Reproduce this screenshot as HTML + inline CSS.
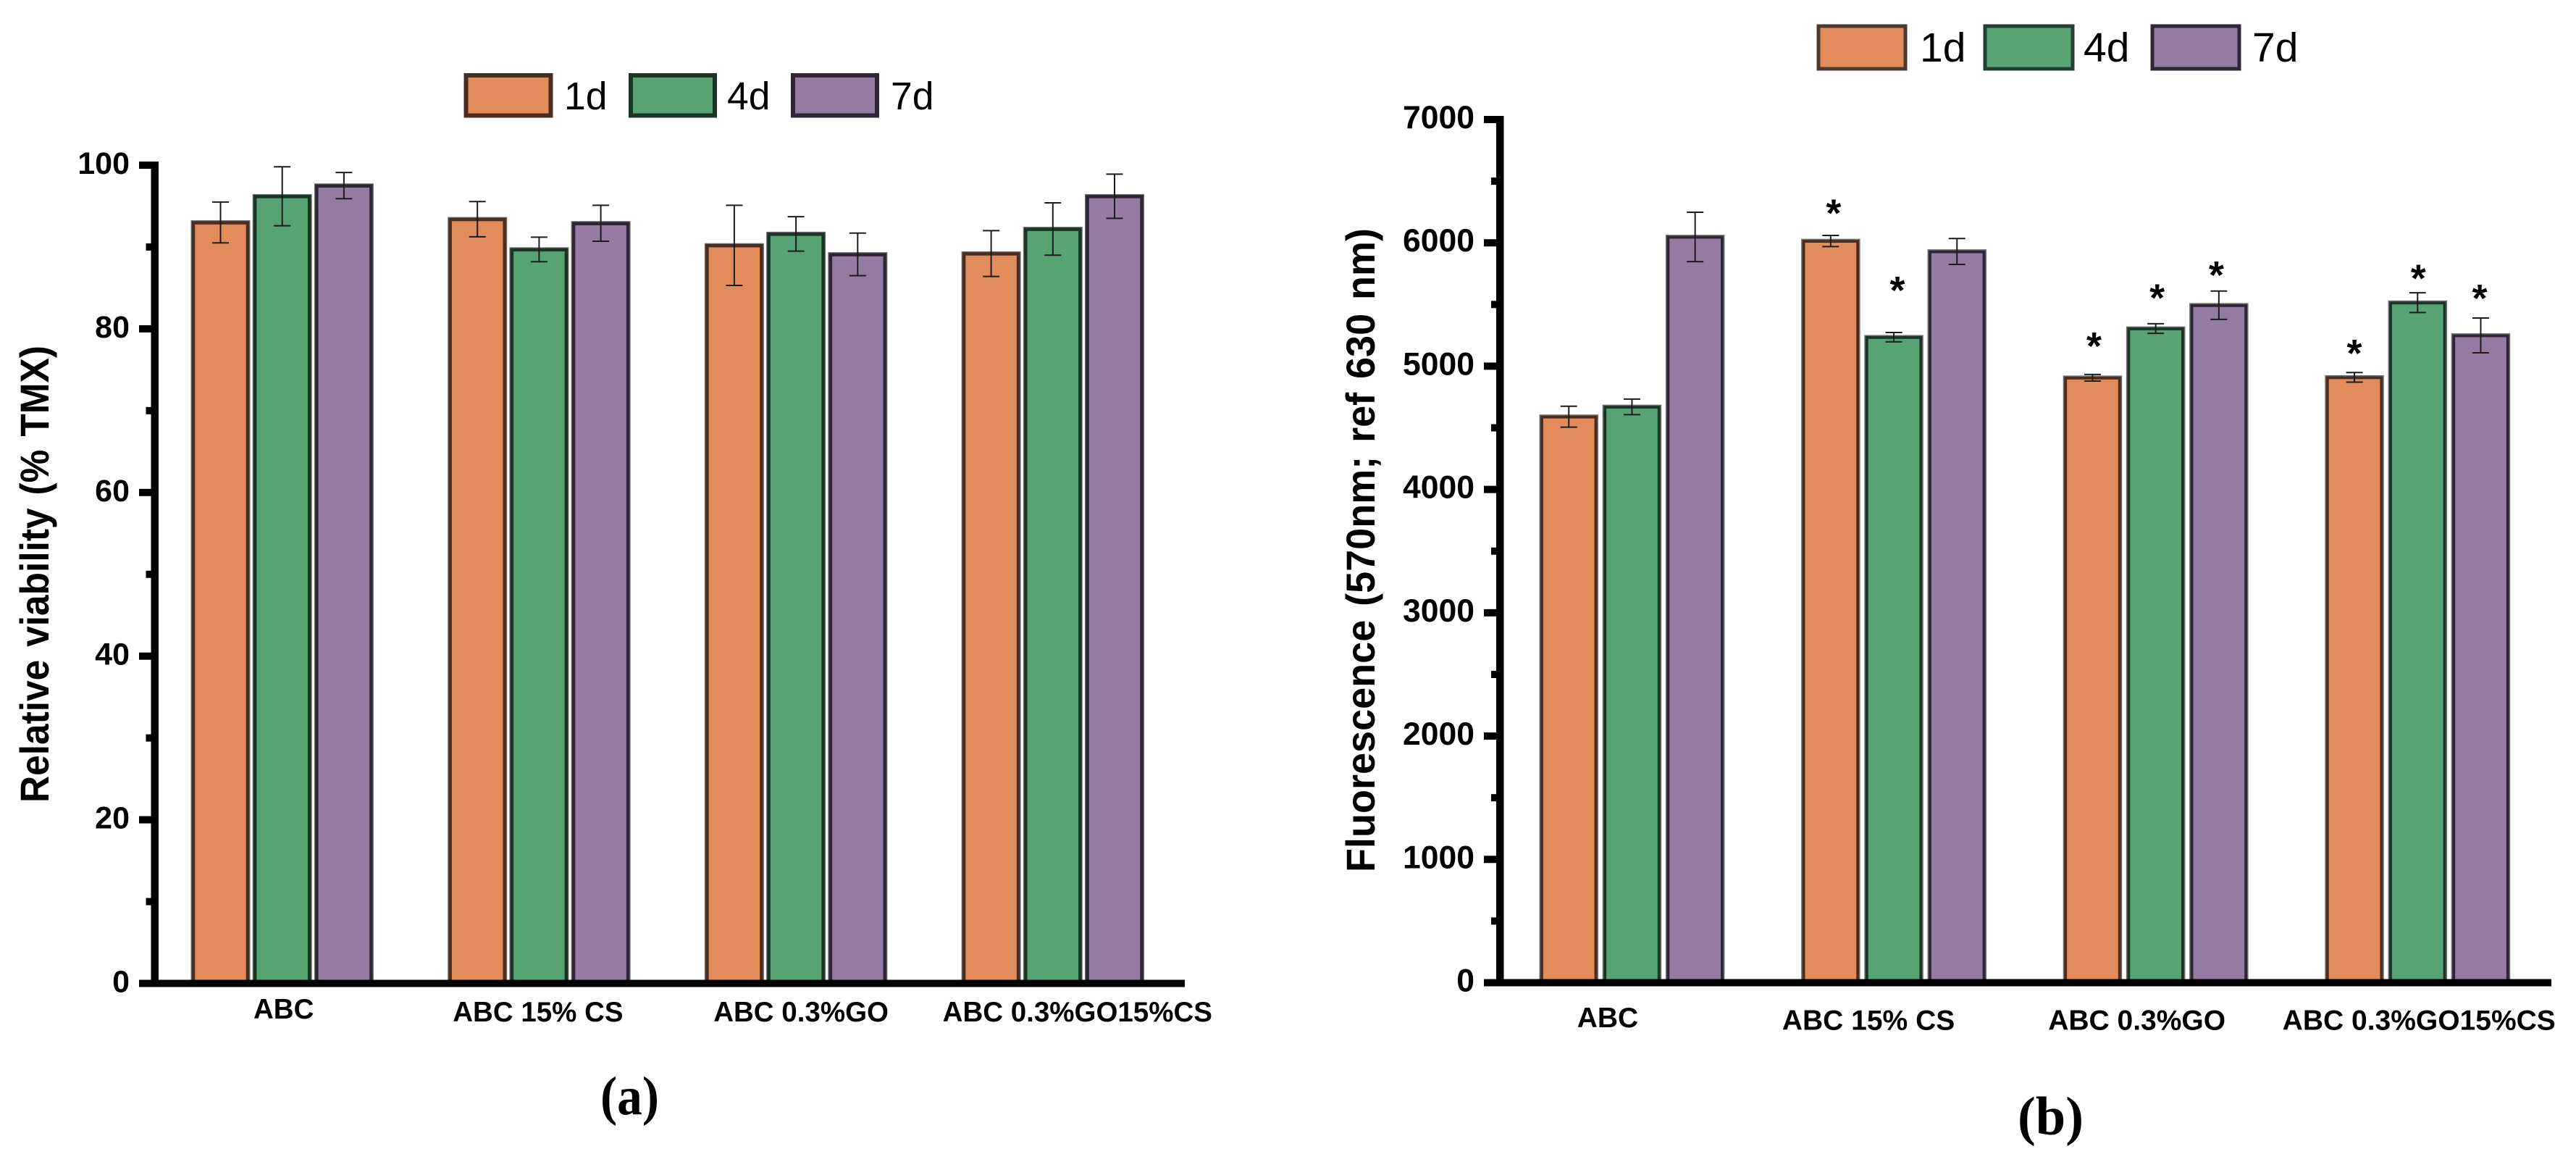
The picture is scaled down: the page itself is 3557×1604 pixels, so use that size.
<!DOCTYPE html>
<html lang="en">
<head>
<meta charset="utf-8">
<title>Relative viability and fluorescence bar charts</title>
<style>
  html, body { margin: 0; padding: 0; background: #fff; }
  svg { display: block; }
  text { font-family: "Liberation Sans", Arial, sans-serif; fill: #000; }
</style>
</head>
<body>
<svg id="figure" xmlns="http://www.w3.org/2000/svg" width="3557" height="1604" viewBox="0 0 3557 1604">
  <rect x="0" y="0" width="3557" height="1604" fill="#fff"/>
  <g id="chart-a"></g>
  <g id="chart-b"></g>

  <g>
    <g>
      <rect x="643.5" y="104" width="117" height="55.5" fill="#E28C5C" stroke="#4A2D1E" stroke-width="6"/>
      <text x="779" y="151" font-size="53.5">1d</text>
    </g>
    <g>
      <rect x="871" y="104" width="116" height="55.5" fill="#58A373" stroke="#1A3524" stroke-width="6"/>
      <text x="1004" y="151" font-size="53.5">4d</text>
    </g>
    <g>
      <rect x="1095" y="104" width="116" height="55.5" fill="#937BA2" stroke="#2E2636" stroke-width="6"/>
      <text x="1230" y="151" font-size="53.5">7d</text>
    </g>
  </g>

  <g>
    <g>
      <rect x="2511" y="36" width="120" height="59" fill="#E28C5C" stroke="#4A3A30" stroke-width="5"/>
      <text x="2651" y="85" font-size="57">1d</text>
    </g>
    <g>
      <rect x="2741" y="36" width="121" height="59" fill="#58A373" stroke="#26402F" stroke-width="5"/>
      <text x="2877" y="85" font-size="57">4d</text>
    </g>
    <g>
      <rect x="2972" y="36" width="120" height="59" fill="#937BA2" stroke="#2E2636" stroke-width="5"/>
      <text x="3110" y="85" font-size="57">7d</text>
    </g>
  </g>

  <text transform="translate(67,1108) rotate(-90)" font-size="56" font-weight="700" textLength="631" lengthAdjust="spacingAndGlyphs" word-spacing="4">Relative viability (% TMX)</text>
  <text transform="translate(1898,1204) rotate(-90)" font-size="56" font-weight="700" textLength="889" lengthAdjust="spacingAndGlyphs" word-spacing="4">Fluorescence (570nm; ref 630 nm)</text>

  <text x="829" y="1538" font-size="75" font-weight="700" textLength="81" lengthAdjust="spacingAndGlyphs" style="font-family:'Liberation Serif',serif">(a)</text>
  <text x="2786" y="1566" font-size="75" font-weight="700" textLength="91" lengthAdjust="spacingAndGlyphs" style="font-family:'Liberation Serif',serif">(b)</text>
</svg>

<script>
// ---- Panel (a) data: relative viability (% TMX) ----
const viabilityCategories = ["ABC", "ABC 15% CS", "ABC 0.3%GO", "ABC 0.3%GO15%CS"];
const viability1d = [93.0, 93.4, 90.2, 89.2];
const viability4d = [96.2, 89.7, 91.6, 92.2];
const viability7d = [97.5, 92.9, 89.1, 96.2];
const viabilityErr1d = [2.5, 2.15, 4.9, 2.8];
const viabilityErr4d = [3.6, 1.5, 2.1, 3.2];
const viabilityErr7d = [1.6, 2.2, 2.6, 2.7];
const viabilityTicks = [0, 20, 40, 60, 80, 100];

// ---- Panel (b) data: fluorescence (570nm; ref 630 nm) ----
const fluorescenceCategories = ["ABC", "ABC 15% CS", "ABC 0.3%GO", "ABC 0.3%GO15%CS"];
const fluorescence1d = [4590, 6015, 4906, 4909];
const fluorescence4d = [4670, 5235, 5305, 5515];
const fluorescence7d = [6048, 5930, 5494, 5249];
const fluorescenceErr1d = [85, 45, 27, 39];
const fluorescenceErr4d = [63, 38, 39, 80];
const fluorescenceErr7d = [200, 105, 115, 141];
const fluorescenceTicks = [0, 1000, 2000, 3000, 4000, 5000, 6000, 7000];
// Height (in data units) of each significance star; null = no star
const fluorescenceStars1d = [null, 6297, 5220, 5161];
const fluorescenceStars4d = [null, 5672, 5611, 5770];
const fluorescenceStars7d = [null, null, 5796, 5608];

const SVGNS = "http://www.w3.org/2000/svg";
const seriesNames = ["1d", "4d", "7d"];
const fillColors = ["#E28C5C", "#58A373", "#937BA2"];
const edgeColors = ["#4A2D1E", "#1A3524", "#2E2636"];

function mk(tag, attrs, parent) {
  const el = document.createElementNS(SVGNS, tag);
  for (const k in attrs) el.setAttribute(k, attrs[k]);
  parent.appendChild(el);
  return el;
}

function linearScale(d0, d1, r0, r1) {
  return function (v) { return r0 + (v - d0) * (r1 - r0) / (d1 - d0); };
}

function drawChart(root, prefix, cfg) {
  const y = linearScale(cfg.ticks[0], cfg.ticks[cfg.ticks.length - 1], cfg.zeroY, cfg.topY);
  const groupX = linearScale(0, 1, cfg.firstBarX, cfg.firstBarX + cfg.groupStep);
  const barX = function (g, s) { return groupX(g) + s * cfg.barPitch; };

  cfg.series.forEach(function (values, s) {
    values.forEach(function (v, g) {
      const x = barX(g, s);
      const top = y(v);
      const halo = mk("rect", { x: x + 3, y: top, width: cfg.barWidth - 6, height: cfg.zeroY - top, fill: "none", stroke: "#6e6e6e", "stroke-width": 6 }, root);
      
      
      const bar = mk("rect", { x: x + 3.5, y: top + 0.5, width: cfg.barWidth - 7, height: cfg.zeroY - top - 0.5, fill: fillColors[s], stroke: edgeColors[s], "stroke-width": cfg.edgeWidth }, root);
      
      
      bar.setAttribute('data-series', seriesNames[s]);
    });
  });

  // error bars
  cfg.series.forEach(function (values, s) {
    values.forEach(function (v, g) {
      const cx = barX(g, s) + cfg.barWidth / 2;
      const e = cfg.errors[s][g];
      const hi = y(v + e);
      const lo = y(v - e);
      const eb = mk("g", { stroke: "#1c1c1c", "stroke-width": 2, fill: "none" }, root);
      
      
      mk("line", { x1: cx, x2: cx, y1: hi, y2: lo }, eb);
      mk("line", { x1: cx - 11.5, x2: cx + 11.5, y1: hi, y2: hi }, eb);
      mk("line", { x1: cx - 11.5, x2: cx + 11.5, y1: lo, y2: lo }, eb);
    });
  });

  // significance stars
  if (cfg.stars) {
    cfg.stars.forEach(function (levels, s) {
      levels.forEach(function (level, g) {
        if (level === null) return;
        const star = mk("text", { x: barX(g, s) + cfg.barWidth / 2 + cfg.starNudge[s][g], y: y(level) + 28, "text-anchor": "middle", "font-size": 54, "font-weight": 700 }, root);
        
        
        star.textContent = "*";
      });
    });
  }

  // y axis line
  const yAxis = mk("rect", { x: cfg.axisX, y: cfg.topY - 5, width: cfg.axisWidth, height: cfg.zeroY - cfg.topY + 10, fill: "#000" }, root);
  
  

  // x axis line
  const xAxis = mk("rect", { x: cfg.axisX - cfg.majorLen, y: cfg.zeroY - cfg.xAxisThick / 2, width: cfg.xAxisEnd - cfg.axisX + cfg.majorLen, height: cfg.xAxisThick, fill: "#000" }, root);
  
  

  // ticks and labels
  cfg.ticks.forEach(function (t, i) {
    const ty = y(t);
    const major = mk("rect", { x: cfg.axisX - cfg.majorLen, y: ty - 5, width: cfg.majorLen, height: 10, fill: "#000" }, root);
    
    
    const label = mk("text", { x: cfg.tickLabelX, y: ty + cfg.tickLabelDy, "text-anchor": "end", "font-size": cfg.tickFont, "font-weight": 700 }, root);
    
    
    label.textContent = String(t);
    if (i < cfg.ticks.length - 1) {
      const minorY = y((t + cfg.ticks[i + 1]) / 2);
      const minor = mk("rect", { x: cfg.axisX - cfg.minorLen, y: minorY - 5, width: cfg.minorLen, height: 10, fill: "#000" }, root);
      
      
    }
  });

  // category labels
  cfg.categories.forEach(function (c, g) {
    const centre = barX(g, 1) + cfg.barWidth / 2 + cfg.labelShift[g];
    const label = mk("text", { x: centre, y: cfg.labelBase + (g === 0 ? 0 : cfg.labelDrop), "text-anchor": "middle", "font-size": cfg.catFont, "font-weight": 700 }, root);
    
    
    label.textContent = c;
  });
}

drawChart(document.getElementById("chart-a"), "viability", {
  categories: viabilityCategories,
  series: [viability1d, viability4d, viability7d],
  errors: [viabilityErr1d, viabilityErr4d, viabilityErr7d],
  ticks: viabilityTicks,
  zeroY: 1357.5, topY: 228,
  firstBarX: 263.5, groupStep: 354.7, barPitch: 85.2, barWidth: 82, edgeWidth: 4.5,
  axisX: 208.5, axisWidth: 10.5, majorLen: 16.5, minorLen: 7, xAxisEnd: 1636, xAxisThick: 10,
  tickLabelX: 179, tickLabelDy: 12, tickFont: 43,
  labelBase: 1406, labelDrop: 4, catFont: 38.5, labelShift: [2, -1.5, 7, 34]
});

drawChart(document.getElementById("chart-b"), "fluorescence", {
  categories: fluorescenceCategories,
  series: [fluorescence1d, fluorescence4d, fluorescence7d],
  errors: [fluorescenceErr1d, fluorescenceErr4d, fluorescenceErr7d],
  stars: [fluorescenceStars1d, fluorescenceStars4d, fluorescenceStars7d],
  starNudge: [[0, 4, 2, 0], [0, 5, 2, 1], [0, 0, -3.5, -1.5]],
  ticks: fluorescenceTicks,
  zeroY: 1356.5, topY: 165,
  firstBarX: 2125.5, groupStep: 361.6, barPitch: 87.2, barWidth: 81.5, edgeWidth: 3.8,
  axisX: 2066, axisWidth: 10.5, majorLen: 17, minorLen: 7, xAxisEnd: 3523, xAxisThick: 10,
  tickLabelX: 2036, tickLabelDy: 12, tickFont: 44.5,
  labelBase: 1418, labelDrop: 3.5, catFont: 39, labelShift: [-33.5, -35, -26, 2]
});
</script>
</body>
</html>
